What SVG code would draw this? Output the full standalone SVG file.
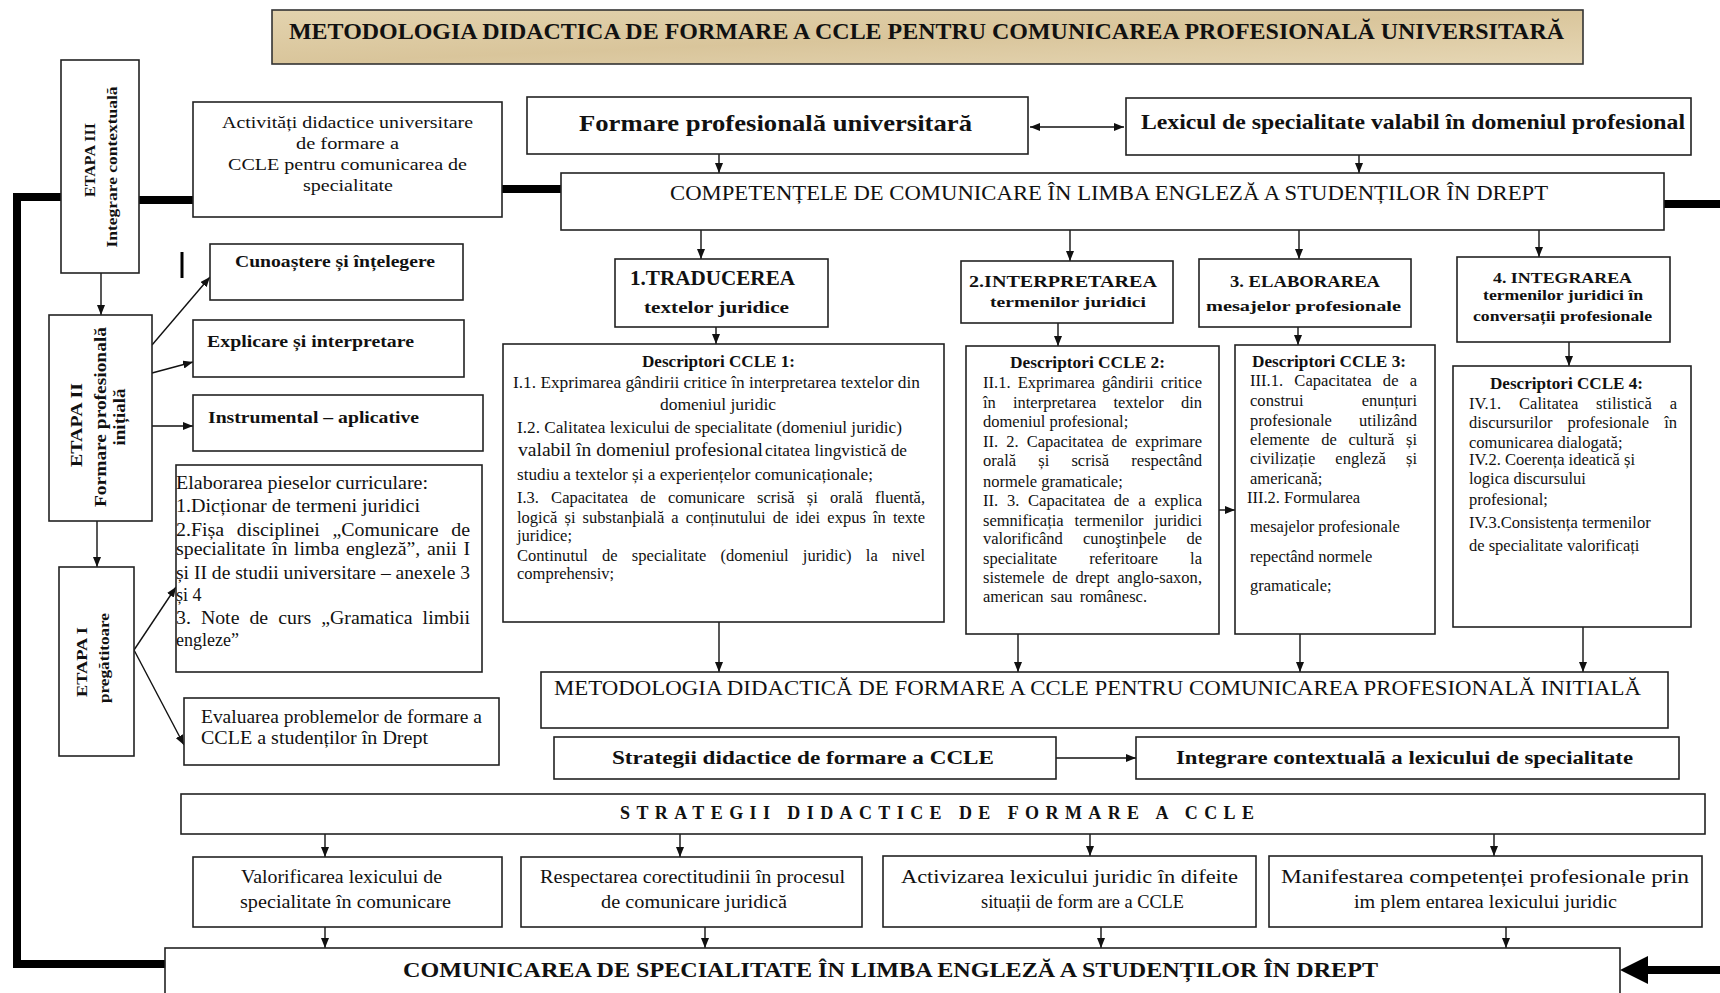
<svg xmlns="http://www.w3.org/2000/svg" width="1720" height="993" viewBox="0 0 1720 993">
<style>
.box{fill:#fff;stroke:#222;stroke-width:1.6}
text{font-family:"Liberation Serif","Times New Roman",serif;fill:#111}
.b{font-weight:bold}
.m{text-anchor:middle}
.d{font-size:16.5px}
.e{font-size:18px}
.s{font-size:18px}
.conn line{stroke:#111;stroke-width:1.4;fill:none;marker-end:url(#ah)}
.thick{stroke:#000;stroke-width:8;fill:none}
</style>
<defs>
<marker id="ah" viewBox="0 0 10 10" refX="10" refY="5" markerWidth="10" markerHeight="8" preserveAspectRatio="none" markerUnits="userSpaceOnUse" orient="auto"><path d="M0,0 L10,5 L0,10 z" fill="#111"/></marker>
<marker id="ahs" viewBox="0 0 10 10" refX="0" refY="5" markerWidth="10" markerHeight="8" preserveAspectRatio="none" markerUnits="userSpaceOnUse" orient="auto"><path d="M10,0 L0,5 L10,10 z" fill="#111"/></marker>
<linearGradient id="parch" x1="0" y1="0" x2="1" y2="1">
<stop offset="0" stop-color="#e3d3ae"/><stop offset="0.5" stop-color="#d9c59b"/><stop offset="1" stop-color="#e6d7b5"/>
</linearGradient>
</defs>

<g id="title">
<rect x="272" y="10" width="1311" height="54" fill="url(#parch)" stroke="#333" stroke-width="1.6"/>
<text x="289" y="39" class="b" font-size="23" textLength="1275" lengthAdjust="spacingAndGlyphs">METODOLOGIA DIDACTICA  DE FORMARE A CCLE PENTRU COMUNICAREA PROFESIONALĂ UNIVERSITARĂ</text>
</g>

<g id="connectors">
<path class="thick" d="M61,197 H17 V964 H165"/>
<line class="thick" x1="139" y1="200" x2="193" y2="200"/>
<line class="thick" x1="502" y1="189" x2="561" y2="189"/>
<line class="thick" x1="1664" y1="204" x2="1720" y2="204"/>
<line class="thick" x1="1646" y1="970" x2="1720" y2="970"/>
<polygon points="1620,970 1648,956 1648,984" fill="#000"/>
<line x1="182" y1="252" x2="182" y2="278" stroke="#000" stroke-width="3"/>
<g class="conn">
<line x1="719" y1="154" x2="719" y2="173"/>
<line x1="1359" y1="155" x2="1359" y2="173"/>
<line x1="1030" y1="127" x2="1124" y2="127" marker-start="url(#ahs)"/>
<line x1="701" y1="230" x2="701" y2="259"/>
<line x1="1070" y1="230" x2="1070" y2="261"/>
<line x1="1299" y1="230" x2="1299" y2="259"/>
<line x1="1539" y1="230" x2="1539" y2="257"/>
<line x1="716" y1="327" x2="716" y2="344"/>
<line x1="1058" y1="323" x2="1058" y2="346"/>
<line x1="1298" y1="327" x2="1298" y2="345"/>
<line x1="1569" y1="342" x2="1569" y2="366"/>
<line x1="1219" y1="510" x2="1235" y2="510"/>
<line x1="719" y1="622" x2="719" y2="672"/>
<line x1="1018" y1="634" x2="1018" y2="672"/>
<line x1="1300" y1="634" x2="1300" y2="672"/>
<line x1="1583" y1="627" x2="1583" y2="672"/>
<line x1="1056" y1="758" x2="1136" y2="758"/>
<line x1="325" y1="834" x2="325" y2="857"/>
<line x1="680" y1="834" x2="680" y2="857"/>
<line x1="1090" y1="834" x2="1090" y2="856"/>
<line x1="1494" y1="834" x2="1494" y2="856"/>
<line x1="325" y1="927" x2="325" y2="948"/>
<line x1="705" y1="927" x2="705" y2="948"/>
<line x1="1101" y1="927" x2="1101" y2="948"/>
<line x1="1506" y1="927" x2="1506" y2="948"/>
<line x1="101" y1="273" x2="101" y2="315"/>
<line x1="97" y1="521" x2="97" y2="567"/>
<line x1="152" y1="345" x2="210" y2="277"/>
<line x1="152" y1="373" x2="193" y2="362"/>
<line x1="152" y1="426" x2="193" y2="426"/>
<line x1="134" y1="650" x2="176" y2="587"/>
<line x1="134" y1="650" x2="184" y2="745"/>
</g>
</g>

<g id="etapa3">
<rect class="box" x="61" y="60" width="78" height="213"/>
<text class="b m" font-size="15" transform="translate(95,160) rotate(-90)" textLength="74" lengthAdjust="spacingAndGlyphs">ETAPA III</text>
<text class="b m" font-size="14" transform="translate(117,167) rotate(-90)" textLength="161" lengthAdjust="spacingAndGlyphs">Integrare  contextuală</text>
</g>

<g id="etapa2">
<rect class="box" x="49" y="315" width="103" height="206"/>
<text class="b m" font-size="16" transform="translate(82,425) rotate(-90)" textLength="84" lengthAdjust="spacingAndGlyphs">ETAPA II</text>
<text class="b m" font-size="16" transform="translate(106,417) rotate(-90)" textLength="180" lengthAdjust="spacingAndGlyphs">Formare profesională</text>
<text class="b m" font-size="16" transform="translate(125,417) rotate(-90)" textLength="57" lengthAdjust="spacingAndGlyphs">inițială</text>
</g>

<g id="etapa1">
<rect class="box" x="59" y="567" width="75" height="189"/>
<text class="b m" font-size="15" transform="translate(87,662) rotate(-90)" textLength="70" lengthAdjust="spacingAndGlyphs">ETAPA I</text>
<text class="b m" font-size="15" transform="translate(109,658) rotate(-90)" textLength="90" lengthAdjust="spacingAndGlyphs">pregătitoare</text>
</g>

<g id="activitati">
<rect class="box" x="193" y="102" width="309" height="115"/>
<text x="222" y="128" font-size="17" textLength="251" lengthAdjust="spacingAndGlyphs">Activități didactice universitare</text>
<text x="296" y="149" font-size="17" textLength="103" lengthAdjust="spacingAndGlyphs">de formare a</text>
<text x="228" y="170" font-size="17" textLength="239" lengthAdjust="spacingAndGlyphs">CCLE pentru comunicarea de</text>
<text x="303" y="191" font-size="17" textLength="90" lengthAdjust="spacingAndGlyphs">specialitate</text>
</g>

<g id="formare">
<rect class="box" x="527" y="97" width="501" height="57"/>
<text x="579" y="131" class="b" font-size="23" textLength="393" lengthAdjust="spacingAndGlyphs">Formare profesională universitară</text>
</g>

<g id="lexicul">
<rect class="box" x="1126" y="98" width="565" height="57"/>
<text x="1141" y="129" class="b" font-size="22" textLength="544" lengthAdjust="spacingAndGlyphs">Lexicul de specialitate valabil în domeniul profesional</text>
</g>

<g id="competente">
<rect class="box" x="561" y="173" width="1103" height="57"/>
<text x="670" y="200" font-size="20.5" textLength="878" lengthAdjust="spacingAndGlyphs">COMPETENȚELE  DE COMUNICARE ÎN LIMBA ENGLEZĂ A STUDENȚILOR ÎN DREPT</text>
</g>

<g id="cunoastere">
<rect class="box" x="210" y="244" width="253" height="56"/>
<text x="235" y="267" class="b" font-size="17.5" textLength="200" lengthAdjust="spacingAndGlyphs">Cunoaștere și înțelegere</text>
</g>
<g id="explicare">
<rect class="box" x="193" y="320" width="271" height="57"/>
<text x="207" y="347" class="b" font-size="17.5" textLength="207" lengthAdjust="spacingAndGlyphs">Explicare și interpretare</text>
</g>
<g id="instrumental">
<rect class="box" x="193" y="395" width="290" height="56"/>
<text x="208" y="423" class="b" font-size="17.5" textLength="211" lengthAdjust="spacingAndGlyphs">Instrumental – aplicative</text>
</g>

<g id="elaborarea-piese">
<rect class="box" x="176" y="465" width="306" height="207"/>
<text class="e" x="176" y="489" textLength="252" lengthAdjust="spacingAndGlyphs">Elaborarea pieselor curriculare:</text>
<text class="e" x="176" y="512" textLength="244" lengthAdjust="spacingAndGlyphs">1.Dicționar de termeni juridici</text>
<text class="e" x="176" y="536" word-spacing="7" textLength="294" lengthAdjust="spacingAndGlyphs">2.Fișa disciplinei „Comunicare de</text>
<text class="e" x="176" y="555" word-spacing="1.6" textLength="294" lengthAdjust="spacingAndGlyphs">specialitate în limba engleză”, anii I</text>
<text class="e" x="176" y="579" textLength="294" lengthAdjust="spacingAndGlyphs">și II de studii universitare – anexele 3</text>
<text class="e" x="176" y="601">și 4</text>
<text class="e" x="176" y="624" word-spacing="4.6" textLength="294" lengthAdjust="spacingAndGlyphs">3. Note de curs „Gramatica limbii</text>
<text class="e" x="176" y="646">engleze”</text>
</g>

<g id="evaluarea">
<rect class="box" x="184" y="698" width="315" height="67"/>
<text class="e" x="201" y="723" textLength="281" lengthAdjust="spacingAndGlyphs">Evaluarea problemelor de formare a</text>
<text class="e" x="201" y="744" textLength="227" lengthAdjust="spacingAndGlyphs">CCLE a studenților în Drept</text>
</g>

<g id="traducerea">
<rect class="box" x="615" y="259" width="213" height="68"/>
<text x="630" y="285" class="b" font-size="20" textLength="165" lengthAdjust="spacingAndGlyphs">1.TRADUCEREA</text>
<text x="644" y="313" class="b" font-size="17" textLength="145" lengthAdjust="spacingAndGlyphs">textelor  juridice</text>
</g>
<g id="interpretarea">
<rect class="box" x="961" y="261" width="212" height="62"/>
<text x="969" y="287" class="b" font-size="17" textLength="188" lengthAdjust="spacingAndGlyphs">2.INTERPRETAREA</text>
<text x="990" y="307" class="b" font-size="15" textLength="156" lengthAdjust="spacingAndGlyphs">termenilor juridici</text>
</g>
<g id="elaborarea">
<rect class="box" x="1199" y="259" width="212" height="68"/>
<text x="1230" y="287" class="b" font-size="17" textLength="150" lengthAdjust="spacingAndGlyphs">3. ELABORAREA</text>
<text x="1206" y="311" class="b" font-size="15" textLength="195" lengthAdjust="spacingAndGlyphs">mesajelor profesionale</text>
</g>
<g id="integrarea">
<rect class="box" x="1457" y="257" width="213" height="85"/>
<text x="1493" y="283" class="b" font-size="15" textLength="139" lengthAdjust="spacingAndGlyphs">4. INTEGRAREA</text>
<text x="1483" y="300" class="b" font-size="14" textLength="160" lengthAdjust="spacingAndGlyphs">termenilor juridici în</text>
<text x="1473" y="321" class="b" font-size="14" textLength="179" lengthAdjust="spacingAndGlyphs">conversații profesionale</text>
</g>

<g id="descriptori1">
<rect class="box" x="503" y="344" width="441" height="278"/>
<text x="642" y="367" class="b" font-size="17" textLength="153" lengthAdjust="spacingAndGlyphs">Descriptori CCLE 1:</text>
<text class="d" x="513" y="388" textLength="407" lengthAdjust="spacingAndGlyphs">I.1. Exprimarea gândirii critice în interpretarea textelor din</text>
<text class="d" x="660" y="410" textLength="116" lengthAdjust="spacingAndGlyphs">domeniul juridic</text>
<text class="d" x="517" y="433" textLength="385" lengthAdjust="spacingAndGlyphs">I.2. Calitatea lexicului de specialitate (domeniul juridic)</text>
<text x="518" y="456" font-size="18" textLength="245" lengthAdjust="spacingAndGlyphs">valabil în domeniul profesional</text>
<text class="d" x="765" y="456" textLength="142" lengthAdjust="spacingAndGlyphs">citatea lingvistică de</text>
<text class="d" x="517" y="480" textLength="356" lengthAdjust="spacingAndGlyphs">studiu a textelor și a experiențelor comunicaționale;</text>
<text class="d" x="517" y="503" word-spacing="8" textLength="408" lengthAdjust="spacing">I.3. Capacitatea de comunicare scrisă și orală fluentă,</text>
<text class="d" x="517" y="523" word-spacing="3" textLength="408" lengthAdjust="spacing">logică și substanþială a conținutului de idei expus în texte</text>
<text class="d" x="517" y="541">juridice;</text>
<text class="d" x="517" y="561" word-spacing="10" textLength="408" lengthAdjust="spacing">Continutul de specialitate (domeniul juridic) la nivel</text>
<text class="d" x="517" y="579">comprehensiv;</text>
</g>

<g id="descriptori2">
<rect class="box" x="966" y="346" width="253" height="288"/>
<text x="1010" y="368" class="b" font-size="17" textLength="155" lengthAdjust="spacingAndGlyphs">Descriptori CCLE 2:</text>
<text class="d" x="983" y="388" word-spacing="3" textLength="219" lengthAdjust="spacing">II.1. Exprimarea gândirii critice</text>
<text class="d" x="983" y="408" word-spacing="13" textLength="219" lengthAdjust="spacing">în interpretarea textelor din</text>
<text class="d" x="983" y="427">domeniul profesional;</text>
<text class="d" x="983" y="447" word-spacing="4" textLength="219" lengthAdjust="spacing">II. 2. Capacitatea de exprimare</text>
<text class="d" x="983" y="466" word-spacing="18" textLength="219" lengthAdjust="spacing">orală și scrisă respectând</text>
<text class="d" x="983" y="487">normele gramaticale;</text>
<text class="d" x="983" y="506" word-spacing="4.7" textLength="219" lengthAdjust="spacing">II. 3. Capacitatea de a explica</text>
<text class="d" x="983" y="526" word-spacing="6.8" textLength="219" lengthAdjust="spacing">semnificația termenilor juridici</text>
<text class="d" x="983" y="544" word-spacing="16" textLength="219" lengthAdjust="spacing">valorificând cunoştinþele de</text>
<text class="d" x="983" y="564" word-spacing="28" textLength="219" lengthAdjust="spacing">specialitate referitoare la</text>
<text class="d" x="983" y="583" word-spacing="3.6" textLength="219" lengthAdjust="spacing">sistemele de drept anglo-saxon,</text>
<text class="d" x="983" y="602" word-spacing="3">american sau românesc.</text>
</g>

<g id="descriptori3">
<rect class="box" x="1235" y="345" width="200" height="289"/>
<text x="1252" y="367" class="b" font-size="17" textLength="154" lengthAdjust="spacingAndGlyphs">Descriptori CCLE 3:</text>
<text class="d" x="1250" y="386" word-spacing="7" textLength="167" lengthAdjust="spacing">III.1. Capacitatea de a</text>
<text class="d" x="1250" y="406" word-spacing="54" textLength="167" lengthAdjust="spacing">construi enunțuri</text>
<text class="d" x="1250" y="426" word-spacing="23" textLength="167" lengthAdjust="spacing">profesionale utilizând</text>
<text class="d" x="1250" y="445" word-spacing="7.5" textLength="167" lengthAdjust="spacing">elemente de cultură și</text>
<text class="d" x="1250" y="464" word-spacing="16" textLength="167" lengthAdjust="spacing">civilizație engleză și</text>
<text class="d" x="1250" y="484">americană;</text>
<text class="d" x="1247" y="503">III.2. Formularea</text>
<text class="d" x="1250" y="532">mesajelor profesionale</text>
<text class="d" x="1250" y="562">repectând normele</text>
<text class="d" x="1250" y="591">gramaticale;</text>
</g>

<g id="descriptori4">
<rect class="box" x="1453" y="366" width="238" height="261"/>
<text x="1490" y="389" class="b" font-size="17" textLength="153" lengthAdjust="spacingAndGlyphs">Descriptori CCLE 4:</text>
<text class="d" x="1469" y="409" word-spacing="13.6" textLength="208" lengthAdjust="spacing">IV.1. Calitatea stilistică a</text>
<text class="d" x="1469" y="428" word-spacing="11" textLength="208" lengthAdjust="spacing">discursurilor profesionale în</text>
<text class="d" x="1469" y="448">comunicarea dialogată;</text>
<text class="d" x="1469" y="465">IV.2. Coerența ideatică și</text>
<text class="d" x="1469" y="484">logica discursului</text>
<text class="d" x="1469" y="505">profesional;</text>
<text class="d" x="1469" y="528">IV.3.Consistența termenilor</text>
<text class="d" x="1469" y="551">de specialitate valorificați</text>
</g>

<g id="metodologia-initiala">
<rect class="box" x="541" y="672" width="1127" height="56"/>
<text x="554" y="695" font-size="20" textLength="1087" lengthAdjust="spacingAndGlyphs">METODOLOGIA  DIDACTICĂ DE FORMARE  A CCLE PENTRU COMUNICAREA PROFESIONALĂ INITIALĂ</text>
</g>

<g id="strategii">
<rect class="box" x="554" y="737" width="502" height="42"/>
<text x="612" y="764" class="b s" textLength="382" lengthAdjust="spacingAndGlyphs">Strategii  didactice  de formare  a CCLE</text>
</g>
<g id="integrare-contextuala">
<rect class="box" x="1136" y="737" width="543" height="42"/>
<text x="1176" y="764" class="b s" textLength="457" lengthAdjust="spacingAndGlyphs">Integrare  contextuală  a lexicului  de specialitate</text>
</g>

<g id="strategii-didactice">
<rect class="box" x="181" y="794" width="1524" height="40"/>
<text x="620" y="819" class="b s" textLength="634" lengthAdjust="spacing">STRATEGII  DIDACTICE  DE  FORMARE  A  CCLE</text>
</g>

<g id="valorificarea">
<rect class="box" x="193" y="857" width="309" height="70"/>
<text class="s" x="241" y="883" textLength="201" lengthAdjust="spacingAndGlyphs">Valorificarea lexicului de</text>
<text class="s" x="240" y="908" textLength="211" lengthAdjust="spacingAndGlyphs">specialitate  în comunicare</text>
</g>
<g id="respectarea">
<rect class="box" x="521" y="857" width="341" height="70"/>
<text class="s" x="540" y="883" textLength="305" lengthAdjust="spacingAndGlyphs">Respectarea corectitudinii în procesul</text>
<text class="s" x="601" y="908" textLength="186" lengthAdjust="spacingAndGlyphs">de comunicare juridică</text>
</g>
<g id="activizarea">
<rect class="box" x="883" y="856" width="373" height="71"/>
<text class="s" x="901" y="883" textLength="337" lengthAdjust="spacingAndGlyphs">Activizarea lexicului juridic în difeite</text>
<text class="s" x="981" y="908" textLength="203" lengthAdjust="spacingAndGlyphs">situații de form are a CCLE</text>
</g>
<g id="manifestarea">
<rect class="box" x="1269" y="856" width="433" height="71"/>
<text class="s" x="1281" y="883" textLength="408" lengthAdjust="spacingAndGlyphs">Manifestarea competenței profesionale prin</text>
<text class="s" x="1354" y="908" textLength="263" lengthAdjust="spacingAndGlyphs">im plem entarea lexicului juridic</text>
</g>

<g id="comunicarea">
<rect class="box" x="165" y="948" width="1455" height="50"/>
<text x="403" y="977" class="b" font-size="22" textLength="975" lengthAdjust="spacingAndGlyphs">COMUNICAREA DE SPECIALITATE ÎN LIMBA ENGLEZĂ A STUDENȚILOR ÎN DREPT</text>
</g>
</svg>
